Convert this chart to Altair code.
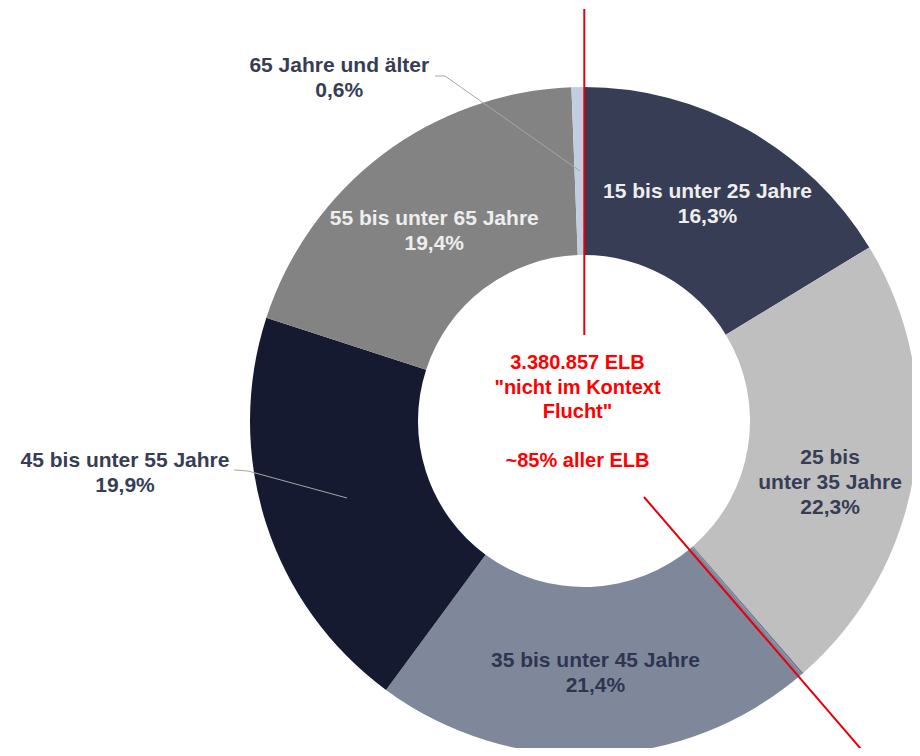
import math
import altair as alt
import pandas as pd

# ---- data -------------------------------------------------------------
groups = [
    "15 bis unter 25 Jahre",
    "25 bis unter 35 Jahre",
    "ohne Angabe",
    "35 bis unter 45 Jahre",
    "45 bis unter 55 Jahre",
    "55 bis unter 65 Jahre",
    "65 Jahre und älter",
]
shares = [16.3, 22.3, 0.1, 21.4, 19.9, 19.4, 0.6]
labels = [
    "15 bis unter 25 Jahre\n16,3%",
    "25 bis\nunter 35 Jahre\n22,3%",
    "",
    "35 bis unter 45 Jahre\n21,4%",
    "45 bis unter 55 Jahre\n19,9%",
    "55 bis unter 65 Jahre\n19,4%",
    "65 Jahre und älter\n0,6%",
]
colors = ["#363d55", "#bfbfbf", "#737d92", "#7f889b", "#151a30", "#838383", "#c3cde0"]
center_lines = ["3.380.857 ELB", "\"nicht im Kontext", "Flucht\""]
center_share = "~85% aller ELB"

df = pd.DataFrame({
    "idx": list(range(len(groups))),
    "group": groups,
    "share": shares,
    "label": labels,
})
one = pd.DataFrame({"k": [0]})

# ---- geometry / style ---------------------------------------------------
CX, CY = 576, 413
R_IN, R_OUT = 166, 334
R_LAB = 250
FONT = "Liberation Sans"
theta_scale = alt.Scale(domain=[0, 100], range=[0, 2 * math.pi])

base = alt.Chart(df)

arcs = base.mark_arc(innerRadius=R_IN, outerRadius=R_OUT).encode(
    theta=alt.Theta("share:Q", stack=True, scale=theta_scale),
    color=alt.Color("group:N", scale=alt.Scale(domain=groups, range=colors), legend=None),
    order=alt.Order("idx:Q", sort="ascending"),
    x=alt.value(CX),
    y=alt.value(CY),
)

mid = base.transform_window(
    cum="sum(share)", sort=[alt.SortField("idx")], frame=[None, 0]
).transform_calculate(mid="datum.cum - datum.share / 2")


def slice_label(i, dx, dy, color):
    return mid.transform_filter(f"datum.idx == {i}").mark_text(
        radius=R_LAB, dx=dx, dy=dy, font=FONT, fontSize=21, fontWeight="bold",
        lineBreak="\n", lineHeight=25, align="center", baseline="middle", color=color,
    ).encode(
        theta=alt.Theta("mid:Q", stack=False, scale=theta_scale),
        text="label:N",
        x=alt.value(CX),
        y=alt.value(CY),
    )


def seg(x1, y1, x2, y2, color, width):
    return alt.Chart(one).mark_rule(color=color, strokeWidth=width).encode(
        x=alt.value(x1), y=alt.value(y1), x2=alt.value(x2), y2=alt.value(y2)
    )


light = "#eeeeee"
dark = "#363d55"
lab_layers = [
    slice_label(0, 1, -11, light),
    slice_label(1, -1, -1, dark),
    slice_label(3, 2, -10, "#2f3550"),
    slice_label(4, -221, -37, dark),
    slice_label(5, 1, -3, light),
    slice_label(6, -240, -105, dark),
]

leaders = [
    seg(226, 462, 240, 463, "#a6a6a6", 1),
    seg(240, 463, 339, 490, "#a6a6a6", 1),
    seg(427, 68, 437, 68, "#a6a6a6", 1),
    seg(437, 68, 572, 163, "#a6a6a6", 1),
]

red_lines = [
    seg(576.3, 1, 576.3, 327, "#e3000f", 2),
    seg(636, 489, 859, 748, "#e3000f", 2),
]

center_style = dict(font=FONT, fontSize=20, fontWeight="bold", lineHeight=24.5,
                    align="center", baseline="middle", color="#ff0000")
center1 = alt.Chart(one).mark_text(text=center_lines, **center_style).encode(
    x=alt.value(569.5), y=alt.value(355))
center2 = alt.Chart(one).mark_text(text=center_share, **center_style).encode(
    x=alt.value(569.5), y=alt.value(453))

chart = alt.layer(arcs, *lab_layers, *leaders, *red_lines, center1, center2).properties(
    width=904, height=740, autosize="none", padding=0
).configure_view(stroke=None)

chart.save("out.html", embed_options={"renderer": "svg", "actions": False})
